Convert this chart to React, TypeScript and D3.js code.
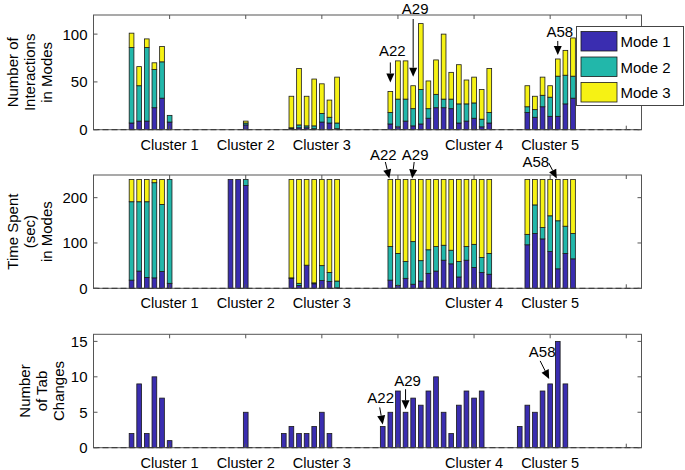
import React, { useEffect, useRef } from 'react';
import * as d3 from 'd3';

// bar positions on the shared x axis (panels 1 and 2)
const modePos = [5, 6, 7, 8, 9, 10, 18, 19, 20, 26, 27, 28, 29, 30, 31, 32,
  39, 40, 41, 42, 43, 44, 45, 46, 47, 48, 49, 50, 51, 52, 57, 58, 59, 60, 61, 62, 63];

// Number of interactions in modes
const interMode1 = [7, 9, 9, 23, 33, 8, 0, 0, 5, 1, 2, 2, 1, 8, 7, 1,
  6, 3, 9, 4, 6, 12, 23, 23, 22, 7, 9, 12, 3, 7, 18, 13, 24, 14, 14, 27, 33];
const interMode2 = [79, 37, 77, 40, 38, 7, 0, 0, 2, 1, 3, 2, 3, 9, 6, 6,
  12, 29, 23, 18, 36, 10, 14, 9, 10, 20, 18, 16, 8, 11, 6, 8, 12, 20, 42, 30, 23];
const interMode3 = [15, 20, 9, 7, 16, 0, 0, 0, 2, 33, 59, 31, 49, 31, 18, 48,
  22, 40, 40, 24, 69, 29, 36, 68, 28, 41, 25, 27, 31, 46, 22, 14, 19, 12, 18, 26, 40];

// Time spent (sec) in modes
const timeMode1 = [18, 38, 24, 23, 37, 11, 240, 240, 227, 22, 6, 51, 10, 17, 15, 1,
  18, 6, 22, 9, 16, 33, 38, 62, 54, 25, 62, 46, 35, 31, 96, 121, 109, 81, 43, 77, 65];
const timeMode2 = [173, 153, 167, 210, 148, 229, 0, 0, 13, 1, 5, 0, 2, 33, 20, 15,
  74, 71, 37, 94, 45, 52, 54, 33, 30, 34, 30, 51, 33, 46, 23, 63, 25, 79, 106, 60, 56];
const timeMode3 = [49, 49, 49, 7, 55, 0, 0, 0, 0, 217, 229, 189, 228, 190, 205, 224,
  148, 163, 181, 137, 179, 155, 148, 145, 156, 181, 148, 143, 172, 163, 121, 56, 106, 80, 91, 103, 119];

// Number of tab changes
const tabPos = [5, 6, 7, 8, 9, 10, 20, 25, 26, 27, 28, 29, 30, 31,
  38, 39, 40, 41, 42, 43, 44, 45, 46, 47, 48, 49, 50, 51, 56, 57, 58, 59, 60, 61, 62];
const tabChanges = [2, 9, 2, 10, 7, 1, 5, 2, 3, 2, 2, 3, 5, 2,
  3, 5, 8, 5, 7, 6, 8, 10, 5, 2, 6, 8, 7, 8, 3, 6, 5, 8, 9, 15, 9];

const xTicks = [0, 10, 20, 30, 40, 50, 60, 70];
const clusterTicks = [10, 20, 30, 50, 60];
const clusterLabels = ['Cluster 1', 'Cluster 2', 'Cluster 3', 'Cluster 4', 'Cluster 5'];
const modeNames = ['Mode 1', 'Mode 2', 'Mode 3'];
const modeColors = ['#3a2db0', '#22b7aa', '#f6f214'];

// annotated participants: [panel, bar position, label]
const notes: [number, number, string][] = [
  [0, 39, 'A22'], [0, 42, 'A29'], [0, 61, 'A58'],
  [1, 39, 'A22'], [1, 42, 'A29'], [1, 61, 'A58'],
  [2, 38, 'A22'], [2, 41, 'A29'], [2, 60, 'A58'],
];

export default function App() {
  const ref = useRef<SVGSVGElement>(null);

  useEffect(() => {
    const font = 'Liberation Sans, Arial, Helvetica, sans-serif';
    const svg = d3.select(ref.current);
    svg.selectAll('*').remove();

    const x = d3.scaleLinear().domain([0, 72]).range([93.5, 641.5]);
    const bw = (x(1) - x(0)) * 0.62;

    const panels = [
      { top: 15, bottom: 129.7, max: 120, ticks: [0, 50, 100], lines: ['Number of', 'Interactions', 'in Modes'], lx: [13, 30, 47] },
      { top: 175, bottom: 288.3, max: 250, ticks: [0, 100, 200], lines: ['Time Spent', '(sec)', 'in Modes'], lx: [13, 30, 47] },
      { top: 334.3, bottom: 447.7, max: 16, ticks: [0, 5, 10, 15], lines: ['Number', 'of Tab', 'Changes'], lx: [25, 42, 59] },
    ];

    const stacked = [
      modePos.map((p, i) => ({ pos: p, m1: interMode1[i], m2: interMode2[i], m3: interMode3[i] })),
      modePos.map((p, i) => ({ pos: p, m1: timeMode1[i], m2: timeMode2[i], m3: timeMode3[i] })),
    ];
    const stack = d3.stack<any>().keys(['m1', 'm2', 'm3']);

    const ys = panels.map(p => d3.scaleLinear().domain([0, p.max]).range([p.bottom, p.top]));

    panels.forEach((p, k) => {
      const y = ys[k];
      const g = svg.append('g');

      // bars
      if (k < 2) {
        stack(stacked[k]).forEach((layer, li) => {
          g.append('g')
            .selectAll('rect')
            .data(layer.filter(d => d[1] - d[0] > 0))
            .join('rect')
            .attr('x', d => x(d.data.pos) - bw / 2)
            .attr('y', d => y(d[1]))
            .attr('width', bw)
            .attr('height', d => y(d[0]) - y(d[1]))
            .attr('fill', modeColors[li])
            .attr('stroke', '#1a1a1a')
            .attr('stroke-width', 0.8);
        });
      } else {
        g.append('g')
          .selectAll('rect')
          .data(tabChanges)
          .join('rect')
          .attr('x', (d, i) => x(tabPos[i]) - bw / 2)
          .attr('y', d => y(d))
          .attr('width', bw)
          .attr('height', d => y(0) - y(d))
          .attr('fill', modeColors[0])
          .attr('stroke', '#1a1a1a')
          .attr('stroke-width', 0.8);
      }

      // axes box
      g.append('rect')
        .attr('x', x(0)).attr('y', p.top)
        .attr('width', x(72) - x(0)).attr('height', p.bottom - p.top)
        .attr('fill', 'none').attr('stroke', '#555').attr('stroke-width', 1);

      // baseline
      g.append('line')
        .attr('x1', x(0)).attr('x2', x(72))
        .attr('y1', y(0)).attr('y2', y(0))
        .attr('stroke', '#333').attr('stroke-width', 1)
        .attr('stroke-dasharray', '6,3');

      // x ticks (top and bottom, inward)
      xTicks.forEach(t => {
        g.append('line').attr('x1', x(t)).attr('x2', x(t))
          .attr('y1', p.top).attr('y2', p.top + 4).attr('stroke', '#555');
        g.append('line').attr('x1', x(t)).attr('x2', x(t))
          .attr('y1', p.bottom).attr('y2', p.bottom - 4).attr('stroke', '#555');
      });
      clusterTicks.forEach((t, i) => {
        g.append('text')
          .attr('x', x(t)).attr('y', p.bottom + 20)
          .attr('text-anchor', 'middle')
          .attr('font-family', font).attr('font-size', 14.5)
          .text(clusterLabels[i]);
      });

      // y ticks
      p.ticks.forEach(t => {
        g.append('line').attr('x1', x(0)).attr('x2', x(0) + 4)
          .attr('y1', y(t)).attr('y2', y(t)).attr('stroke', '#555');
        g.append('line').attr('x1', x(72)).attr('x2', x(72) - 4)
          .attr('y1', y(t)).attr('y2', y(t)).attr('stroke', '#555');
        g.append('text')
          .attr('x', x(0) - 6).attr('y', y(t) + 5.5)
          .attr('text-anchor', 'end')
          .attr('font-family', font).attr('font-size', 15)
          .text(t);
      });

      // y label
      const cy = (p.top + p.bottom) / 2;
      p.lines.forEach((line, i) => {
        g.append('text')
          .attr('transform', `translate(${p.lx[i] + 5},${cy}) rotate(-90)`)
          .attr('text-anchor', 'middle')
          .attr('font-family', font).attr('font-size', 15)
          .text(line);
      });
    });

    // arrow annotations
    const totals = [
      modePos.map((_, i) => interMode1[i] + interMode2[i] + interMode3[i]),
      modePos.map((_, i) => timeMode1[i] + timeMode2[i] + timeMode3[i]),
    ];
    const head = (g: any, tx: number, ty: number, hx: number, hy: number) => {
      const ang = Math.atan2(hy - ty, hx - tx);
      const L = 9, W = 4;
      const bx = hx - L * Math.cos(ang), by = hy - L * Math.sin(ang);
      g.append('line').attr('x1', tx).attr('y1', ty).attr('x2', bx).attr('y2', by)
        .attr('stroke', '#000').attr('stroke-width', 1);
      g.append('path')
        .attr('d', `M${hx},${hy}L${bx - W * Math.sin(ang)},${by + W * Math.cos(ang)}L${bx + W * Math.sin(ang)},${by - W * Math.cos(ang)}Z`)
        .attr('fill', '#000');
    };
    const ag = svg.append('g');
    notes.forEach(([k, pos, label]) => {
      const y = ys[k];
      const bx = x(pos);
      let top: number;
      if (k < 2) top = y(totals[k][modePos.indexOf(pos)]);
      else top = y(tabChanges[tabPos.indexOf(pos)]);
      let hx = bx, hy = top - 3, tx = bx, ty = top - 20, lx = bx + 1, ly = ty - 5;
      if (k === 0 && label === 'A22') { hy = top - 9; ty = top - 29; lx = bx + 2; ly = ty - 6; }
      if (k === 0 && label === 'A29') { hy = top - 9; ty = 19; ly = 14; lx = bx + 2; }
      if (k === 0 && label === 'A58') { hy = top - 4; ty = top - 18; ly = ty - 4; lx = bx + 2; }
      if (k === 1) { hx = bx - 1; hy = top - 1; tx = bx - (label === 'A29' ? -1 : 5); ty = 162; ly = 160; lx = bx - (label === 'A29' ? -2 : 7); }
      if (k === 1 && label === 'A58') { tx = bx - 9; ty = 163; lx = bx - 22; ly = 167; }
      if (k === 2 && label === 'A22') { hx = bx; hy = top - 2; tx = bx - 3; ty = top - 19; lx = bx - 2; ly = ty - 4; }
      if (k === 2 && label === 'A29') { hy = top - 3; ty = top - 23; lx = bx + 2; ly = ty - 3; }
      if (k === 2 && label === 'A58') { hx = bx - 1; hy = top - 5; tx = bx - 10; ty = top - 23; lx = bx - 8; ly = ty - 4; }
      head(ag, tx, ty, hx, hy);
      ag.append('text')
        .attr('x', lx).attr('y', ly)
        .attr('text-anchor', 'middle')
        .attr('font-family', font).attr('font-size', 15)
        .text(label);
    });

    // legend
    const lg = svg.append('g').attr('transform', 'translate(576.5,26.5)');
    lg.append('rect').attr('width', 107).attr('height', 79)
      .attr('fill', '#fff').attr('stroke', '#444').attr('stroke-width', 1);
    modeNames.forEach((name, i) => {
      lg.append('rect')
        .attr('x', 4.5).attr('y', 5 + i * 25.5)
        .attr('width', 36).attr('height', 19.5)
        .attr('fill', modeColors[i]).attr('stroke', '#1a1a1a').attr('stroke-width', 0.8);
      lg.append('text')
        .attr('x', 44).attr('y', 20.5 + i * 25.5)
        .attr('font-family', font).attr('font-size', 15)
        .text(name);
    });
  }, []);

  return (
    <svg ref={ref} width={685} height={470}
      style={{ position: 'absolute', left: 0, top: 0, background: '#fff' }} />
  );
}
